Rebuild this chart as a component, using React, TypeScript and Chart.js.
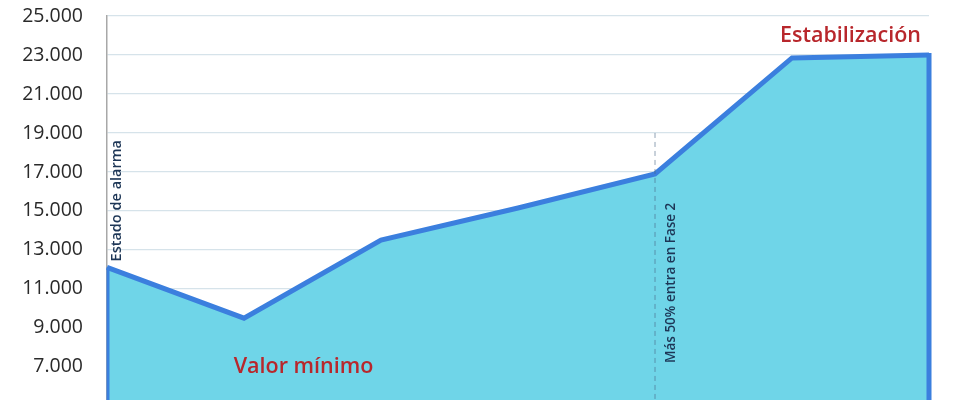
import React, { useEffect, useRef } from "react";
import { Chart, registerables } from "chart.js";

Chart.register(...registerables);

// ---- data ----
const categories = ["Mar", "Abr", "May", "Jun", "Jul", "Ago", "Sep"];
const values = [12100, 9500, 13500, 15150, 16900, 22850, 23000];
const yTicks = [7000, 9000, 11000, 13000, 15000, 17000, 19000, 21000, 23000, 25000];
const yMin = 5300;
const yMax = 25000;

const labelAlarm = "Estado de alarma";
const labelFase2 = "Más 50% entra en Fase 2";
const labelMin = "Valor mínimo";
const labelStab = "Estabilización";
const fase2Index = 4;
const minIndex = 1;
const fase2DashTop = 19000;

// ---- styles ----
const LINE = "#3b7fde";
const FILL = "#6fd5e8";
const RED = "#b8272c";
const NAVY = "#1d3656";
const GRID = "#d6e3ea";

const fmt = (v: number) => {
  const s = Math.round(v).toString();
  return s.replace(/\B(?=(\d{3})+(?!\d))/g, ".");
};

const annotations = {
  id: "annotations",
  afterDatasetsDraw(chart: any) {
    const { ctx, chartArea, scales } = chart;
    const pts = chart.getDatasetMeta(0).data;
    const y = scales.y;
    const first = pts[0];
    const last = pts[pts.length - 1];
    ctx.save();
    // side edges of the area
    ctx.strokeStyle = LINE;
    ctx.lineCap = "butt";
    ctx.lineWidth = 3;
    ctx.beginPath();
    ctx.moveTo(first.x + 1, first.y);
    ctx.lineTo(first.x + 1, chartArea.bottom);
    ctx.stroke();
    ctx.lineWidth = 5;
    ctx.beginPath();
    ctx.moveTo(last.x, last.y - 2);
    ctx.lineTo(last.x, chartArea.bottom);
    ctx.stroke();

    // dashed phase-2 marker
    const fp = pts[fase2Index];
    ctx.strokeStyle = "rgba(70,100,130,0.6)";
    ctx.lineWidth = 1;
    ctx.setLineDash([5, 4]);
    ctx.beginPath();
    ctx.moveTo(fp.x, y.getPixelForValue(fase2DashTop));
    ctx.lineTo(fp.x, chartArea.bottom);
    ctx.stroke();
    ctx.setLineDash([]);

    // rotated labels
    ctx.fillStyle = NAVY;
    ctx.font = '600 14.5px "Open Sans"';
    ctx.textBaseline = "middle";
    ctx.textAlign = "left";
    ctx.save();
    ctx.translate(first.x + 10, first.y - 6);
    ctx.rotate(-Math.PI / 2);
    ctx.fillText(labelAlarm, 0, 0);
    ctx.restore();

    ctx.font = '600 13.5px "Open Sans"';
    ctx.save();
    ctx.translate(fp.x + 16, y.getPixelForValue(7200));
    ctx.rotate(-Math.PI / 2);
    ctx.fillText(labelFase2, 0, 0);
    ctx.restore();

    // red labels
    ctx.fillStyle = RED;
    ctx.font = '600 21.5px "Open Sans"';
    ctx.textAlign = "center";
    const mp = pts[minIndex];
    const mp2 = pts[minIndex + 1];
    ctx.fillText(labelMin, (mp.x + mp2.x) / 2 - 9, y.getPixelForValue(7000));
    ctx.textAlign = "right";
    ctx.fillText(labelStab, chartArea.right - 8, y.getPixelForValue(24000));
    ctx.restore();
  },
};

export default function App() {
  const ref = useRef<HTMLCanvasElement | null>(null);

  useEffect(() => {
    document.body.style.margin = "0";
    const canvas = ref.current;
    if (!canvas) return;
    const chart = new Chart(canvas, {
      type: "line",
      data: {
        labels: categories,
        datasets: [
          {
            data: values,
            borderColor: LINE,
            backgroundColor: FILL,
            borderWidth: 5,
            fill: "start",
            tension: 0,
            pointRadius: 0,
            borderJoinStyle: "miter",
          },
        ],
      },
      options: {
        animation: false,
        responsive: false,
        maintainAspectRatio: false,
        layout: { padding: { top: 16, right: 49, bottom: 0, left: 0 } },
        plugins: { legend: { display: false }, tooltip: { enabled: false } },
        scales: {
          x: {
            display: false,
            offset: false,
          },
          y: {
            min: yMin,
            max: yMax,
            afterBuildTicks: (axis: any) => {
              axis.ticks = yTicks.map((v) => ({ value: v }));
            },
            afterFit: (axis: any) => {
              axis.width = 107;
              axis.paddingTop = 0;
              axis.paddingBottom = 0;
            },
            grid: { color: GRID, lineWidth: 1.2, drawTicks: false },
            border: { display: true, color: "#a8a8a8", width: 1.5 },
            ticks: {
              padding: 24,
              color: "#2a2a2a",
              font: { family: '"Open Sans"', size: 19.5 },
              callback: (v: any) => fmt(Number(v)),
            },
          },
        },
      },
      plugins: [annotations],
    });
    return () => chart.destroy();
  }, []);

  return (
    <div style={{ width: 978, height: 400, overflow: "hidden", background: "#fff" }}>
      <canvas ref={ref} width={978} height={400} style={{ width: 978, height: 400, display: "block" }} />
    </div>
  );
}
